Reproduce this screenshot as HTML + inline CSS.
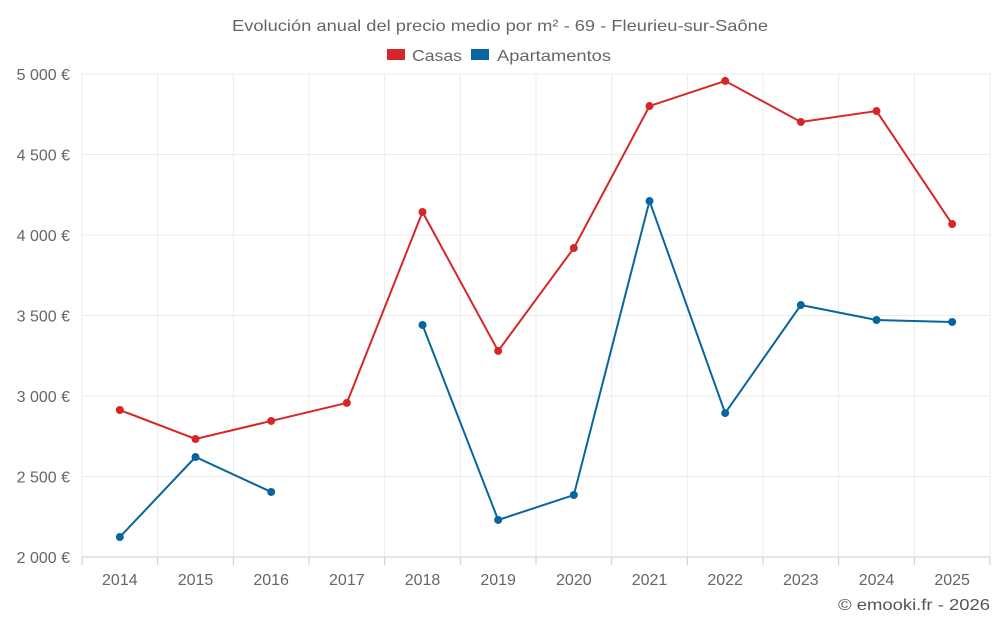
<!DOCTYPE html>
<html><head><meta charset="utf-8"><style>
body{margin:0;background:#fff;font-family:"Liberation Sans",sans-serif;}
svg text{font-family:"Liberation Sans",sans-serif;}
</style></head><body>
<svg id="c" width="1000" height="625">
<text x="232" y="31" textLength="536" lengthAdjust="spacingAndGlyphs" font-size="16" fill="#666">Evolución anual del precio medio por m² - 69 - Fleurieu-sur-Saône</text>
<g>
<g><rect x="387" y="49" width="18" height="11" fill="#d62728"/><text x="412" y="61" textLength="50" lengthAdjust="spacingAndGlyphs" font-size="16" fill="#666">Casas</text></g>
<g><rect x="471" y="49" width="18" height="11" fill="#08659e"/><text x="497" y="61" textLength="114" lengthAdjust="spacingAndGlyphs" font-size="16" fill="#666">Apartamentos</text></g>
</g>
<g id="grid"></g><g id="axes"></g><g id="series"></g>
<text x="838" y="610" textLength="152" lengthAdjust="spacingAndGlyphs" font-size="16" fill="#555">© emooki.fr - 2026</text>
</svg>
<script>
const years=[2014,2015,2016,2017,2018,2019,2020,2021,2022,2023,2024,2025];
const casas=[2913,2733,2845,2957,4143,3280,3919,4801,4957,4702,4770,4068];
const apartamentos=[2124,2621,2404,null,3441,2230,2385,4211,2894,3565,3472,3460];
const yTicks=[2000,2500,3000,3500,4000,4500,5000];
const yTickLabels=["2 000 €","2 500 €","3 000 €","3 500 €","4 000 €","4 500 €","5 000 €"];
const L=82,R=990,T=74,B=557,ymin=2000,ymax=5000;
const bw=(R-L)/years.length;
const xs=i=>L+bw*(i+0.5);
const ys=v=>B-(v-ymin)/(ymax-ymin)*(B-T);
const NS="http://www.w3.org/2000/svg";
function mk(p,tag,a){const e=document.createElementNS(NS,tag);for(const k in a)e.setAttribute(k,a[k]);p.appendChild(e);return e;}
const g=document.getElementById('grid'),ax=document.getElementById('axes'),s=document.getElementById('series');
yTicks.forEach((v,i)=>{
 const l=mk(g,'line',{x1:L,x2:R,y1:ys(v),y2:ys(v),stroke:i==0?'#ccc':'#ebebeb'});
 
 
 const t=mk(ax,'text',{x:70,y:ys(v)+6,'text-anchor':'end','font-size':16,fill:'#666'});t.textContent=yTickLabels[i];
 
 
});
for(let i=0;i<=years.length;i++){
 const l=mk(g,'line',{x1:L+bw*i,x2:L+bw*i,y1:T,y2:B,stroke:'#ebebeb'});
 
 
 const tk=mk(ax,'line',{x1:L+bw*i,x2:L+bw*i,y1:B,y2:B+8,stroke:'#ccc'});
 
 
}
years.forEach((y,i)=>{
 const t=mk(ax,'text',{x:xs(i),y:585,'text-anchor':'middle','font-size':16,fill:'#666'});t.textContent=y;
 
 
});
function draw(data,color,name){
 let d='',pen=false;
 data.forEach((v,i)=>{if(v==null){pen=false;return;}d+=(pen?'L':'M')+xs(i)+' '+ys(v)+' ';pen=true;});
 const p=mk(s,'path',{d:d,fill:'none',stroke:color,'stroke-width':2});
 
 
 data.forEach((v,i)=>{if(v==null)return;
  const c=mk(s,'circle',{cx:xs(i),cy:ys(v),r:4,fill:color});
  
  
 });
}
draw(casas,'#d62728','casas');
draw(apartamentos,'#08659e','apartamentos');
</script>
</body></html>
